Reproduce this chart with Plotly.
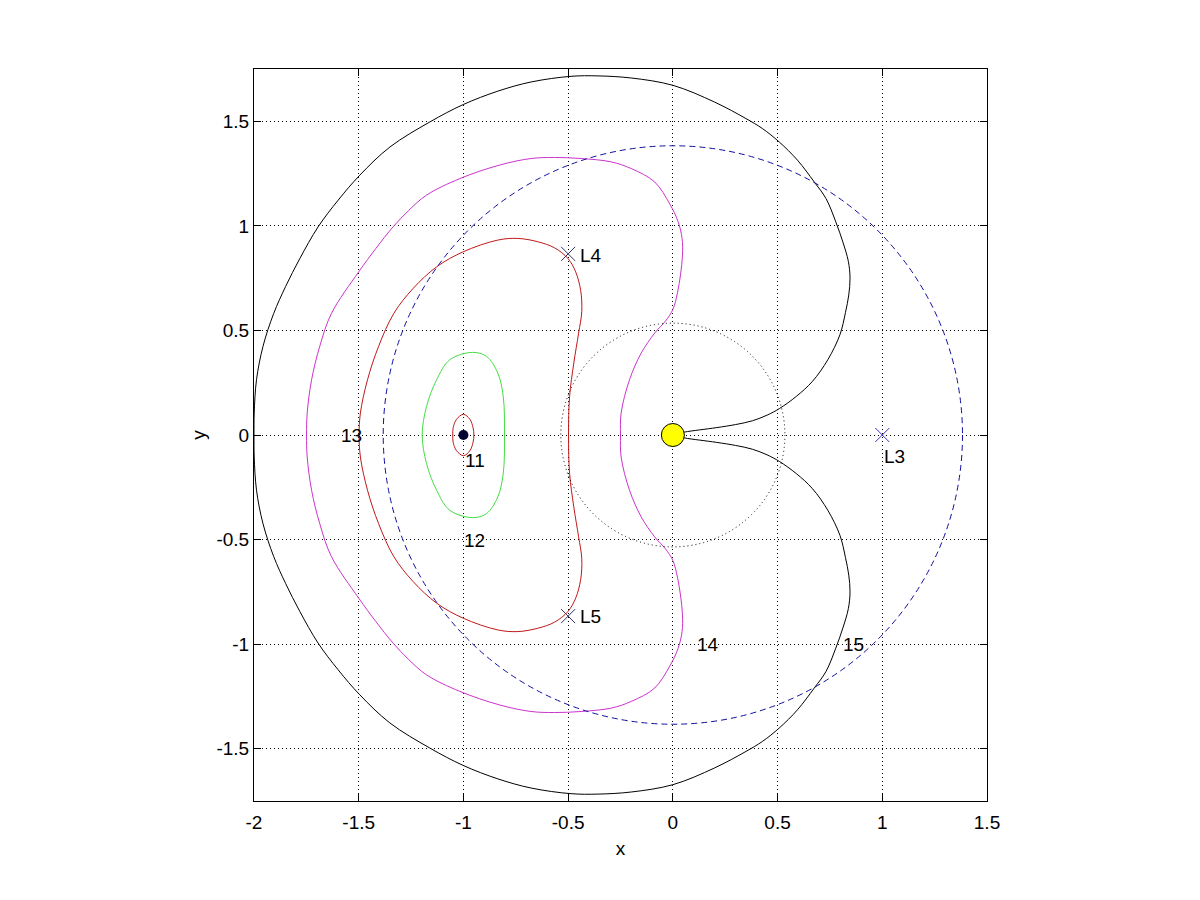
import plotly.graph_objects as go

# ---------------- data ----------------
# curve 15 (black): upper half from the cusp round to (-2, 0), then lower half back to the cusp
c15_x_upper = [0.02, 0.056, 0.207, 0.30, 0.38, 0.45, 0.508, 0.59, 0.667, 0.740, 0.798, 0.824, 0.840, 0.846,
               0.838, 0.812, 0.778, 0.731, 0.675, 0.595, 0.508, 0.428, 0.349, 0.199, 0.0, -0.199, -0.358,
               -0.486, -0.677, -0.836, -1.001, -1.160, -1.351, -1.495, -1.598, -1.694, -1.781, -1.849,
               -1.906, -1.957, -1.988, -1.999, -2.0]
c15_y_upper = [0.005, 0.014, 0.035, 0.050, 0.068, 0.095, 0.126, 0.185, 0.257, 0.360, 0.480, 0.585, 0.670, 0.750,
               0.830, 0.922, 1.019, 1.131, 1.210, 1.314, 1.401, 1.465, 1.513, 1.592, 1.672, 1.707, 1.717,
               1.715, 1.688, 1.644, 1.580, 1.497, 1.377, 1.242, 1.123, 0.995, 0.844, 0.710,
               0.581, 0.424, 0.264, 0.105, 0.0]
c15_x_lower = [-1.999, -1.988, -1.957, -1.906, -1.849, -1.781, -1.694, -1.598, -1.495, -1.351, -1.160, -1.001,
               -0.836, -0.677, -0.486, -0.358, -0.199, 0.0, 0.199, 0.349, 0.428, 0.508, 0.595, 0.675, 0.731,
               0.778, 0.812, 0.838, 0.846, 0.840, 0.824, 0.798, 0.740, 0.667, 0.59, 0.508, 0.45, 0.38, 0.30,
               0.207, 0.056, 0.02]
c15_y_lower = [-0.105, -0.264, -0.424, -0.581, -0.710, -0.844, -0.995, -1.123, -1.242, -1.377, -1.497, -1.580,
               -1.644, -1.688, -1.715, -1.717, -1.707, -1.672, -1.592, -1.513, -1.465, -1.401, -1.314, -1.210,
               -1.131, -1.019, -0.922, -0.830, -0.750, -0.670, -0.585, -0.480, -0.360, -0.257, -0.185, -0.126,
               -0.095, -0.068, -0.050, -0.035, -0.014, -0.005]

# curve 14 (magenta): upper half from (-0.25, 0) to (-1.749, 0), lower half back
c14_x_upper = [-0.250, -0.247, -0.207, -0.151, -0.087, -0.035, 0.0, 0.022, 0.037, 0.046, 0.044, 0.025, -0.015,
               -0.087, -0.199, -0.295, -0.438, -0.565, -0.677, -0.826, -1.017, -1.176, -1.260, -1.336, -1.418,
               -1.500, -1.630, -1.686, -1.725, -1.746, -1.749]
c14_y_upper = [0.0, 0.105, 0.264, 0.392, 0.487, 0.545, 0.600, 0.680, 0.770, 0.860, 0.940, 1.020, 1.105,
               1.210, 1.274, 1.306, 1.322, 1.327, 1.322, 1.291, 1.226, 1.147, 1.075, 0.995, 0.892,
               0.780, 0.582, 0.424, 0.264, 0.105, 0.0]
c14_x_lower = [-1.746, -1.725, -1.686, -1.630, -1.500, -1.418, -1.336, -1.260, -1.176, -1.017, -0.826, -0.677,
               -0.565, -0.438, -0.295, -0.199, -0.087, -0.015, 0.025, 0.044, 0.046, 0.037, 0.022, 0.0, -0.035,
               -0.087, -0.151, -0.207, -0.247, -0.250]
c14_y_lower = [-0.105, -0.264, -0.424, -0.582, -0.780, -0.892, -0.995, -1.075, -1.147, -1.226, -1.291, -1.322,
               -1.327, -1.322, -1.306, -1.274, -1.210, -1.105, -1.020, -0.940, -0.860, -0.770, -0.680, -0.600,
               -0.545, -0.487, -0.392, -0.264, -0.105, 0.0]

# curve 13 (red), closed
c13_x = [-0.498, -0.493, -0.473, -0.450, -0.435, -0.440, -0.464, -0.501, -0.565, -0.645, -0.740, -0.836,
         -1.001, -1.128, -1.240, -1.332, -1.405, -1.458, -1.492, -1.498,
         -1.492, -1.458, -1.405, -1.332, -1.240, -1.128, -1.001, -0.836, -0.740, -0.645, -0.565, -0.501,
         -0.464, -0.440, -0.435, -0.450, -0.473, -0.493, -0.498]
c13_y = [0.0, 0.185, 0.344, 0.487, 0.590, 0.690, 0.780, 0.844, 0.895, 0.924, 0.940, 0.932,
         0.876, 0.804, 0.701, 0.582, 0.424, 0.264, 0.105, 0.0,
         -0.105, -0.264, -0.424, -0.582, -0.701, -0.804, -0.876, -0.932, -0.940, -0.924, -0.895, -0.844,
         -0.780, -0.690, -0.590, -0.487, -0.344, -0.185, 0.0]

# curve 12 (green), closed
c12_x = [-0.804, -0.810, -0.836, -0.890, -0.957, -1.065, -1.128, -1.176, -1.197,
         -1.176, -1.128, -1.065, -0.957, -0.890, -0.836, -0.810, -0.804]
c12_y = [0.0, 0.185, 0.296, 0.376, 0.395, 0.360, 0.264, 0.137, 0.0,
         -0.137, -0.264, -0.360, -0.395, -0.376, -0.296, -0.185, 0.0]

# curve 11 (small red loop), closed
c11_x = [-0.950, -0.954, -0.969, -1.000, -1.033, -1.049, -1.051, -1.049, -1.033, -1.000, -0.969, -0.954, -0.950]
c11_y = [0.0, 0.035, 0.075, 0.099, 0.075, 0.035, 0.0, -0.035, -0.075, -0.099, -0.075, -0.035, 0.0]

# circles (centre and radius)
dashed_circle = {"cx": 0.0, "cy": 0.0, "r": 1.383}
dotted_circle = {"cx": 0.0, "cy": 0.0, "r": 0.535}

# bodies
big_body = (0.0, 0.0)
small_body = (-1.0, 0.0)

# Lagrange points
lag_names = ["L4", "L5", "L3"]
lag_x = [-0.5, -0.5, 1.0]
lag_y = [0.866, -0.866, 0.0]

# curve labels
label_text = ["11", "12", "13", "14", "15", "L4", "L5", "L3"]
label_x = [-1.0, -1.008, -1.594, 0.106, 0.802, -0.451, -0.451, 0.999]
label_y = [-0.12, -0.505, 0.0, -1.003, -1.003, 0.86, -0.866, -0.102]

x_ticks = [-2, -1.5, -1, -0.5, 0, 0.5, 1, 1.5]
y_ticks = [-1.5, -1, -0.5, 0, 0.5, 1, 1.5]

# ---------------- figure ----------------
fig = go.Figure()

def curve(x, y, color):
    fig.add_trace(go.Scatter(x=x, y=y, mode="lines",
                             line=dict(color=color, width=1, shape="spline", smoothing=1.0),
                             hoverinfo="skip", showlegend=False))

curve(c15_x_upper + c15_x_lower, c15_y_upper + c15_y_lower, "#000000")
curve(c14_x_upper + c14_x_lower, c14_y_upper + c14_y_lower, "#CC33CC")
curve(c13_x, c13_y, "#C01818")
curve(c12_x, c12_y, "#44DD44")
curve(c11_x, c11_y, "#C01818")

for c, dash, col in [(dashed_circle, "6px,4px", "#1010A0"), (dotted_circle, "1px,3px", "#000000")]:
    fig.add_shape(type="circle", xref="x", yref="y",
                  x0=c["cx"] - c["r"], x1=c["cx"] + c["r"], y0=c["cy"] - c["r"], y1=c["cy"] + c["r"],
                  line=dict(color=col, width=1, dash=dash), layer="above")

# Lagrange markers
fig.add_trace(go.Scatter(x=lag_x[:2], y=lag_y[:2], mode="markers",
                         marker=dict(symbol="x-thin", size=14, line=dict(color="#333366", width=1)),
                         showlegend=False, hoverinfo="skip"))
fig.add_trace(go.Scatter(x=lag_x[2:], y=lag_y[2:], mode="markers",
                         marker=dict(symbol="x-thin", size=14, line=dict(color="#3333CC", width=1)),
                         showlegend=False, hoverinfo="skip"))

# bodies
fig.add_trace(go.Scatter(x=[big_body[0]], y=[big_body[1]], mode="markers",
                         marker=dict(size=23, color="#FFFF00", line=dict(color="#000000", width=1)),
                         showlegend=False, hoverinfo="skip"))
fig.add_trace(go.Scatter(x=[small_body[0]], y=[small_body[1]], mode="markers",
                         marker=dict(size=10, color="#000033", line=dict(color="#000033", width=0)),
                         showlegend=False, hoverinfo="skip"))

for t, x, y in zip(label_text, label_x, label_y):
    fig.add_annotation(x=x, y=y, xref="x", yref="y", text=t, showarrow=False,
                       xanchor="left", yanchor="middle", font=dict(size=19, color="#000000"))

axis_common = dict(showline=True, linecolor="#000000", linewidth=1, mirror="allticks", ticks="inside",
                   ticklen=7, tickcolor="#000000", showgrid=True, gridcolor="#000000", gridwidth=1,
                   griddash="1px,3px", zeroline=False, tickfont=dict(size=19, color="#000000"),
                   automargin=False)

fig.update_layout(
    width=1200, height=900,
    margin=dict(l=246, r=221, t=61, b=107),
    paper_bgcolor="#FFFFFF", plot_bgcolor="#FFFFFF",
    font=dict(family="Liberation Sans, Arial, sans-serif", size=19, color="#000000"),
    xaxis=dict(range=[-2, 1.5], tickvals=x_ticks, ticktext=[f"{v:g}" for v in x_ticks],
               title=dict(text="x", font=dict(size=19), standoff=9), ticklabelstandoff=4, **axis_common),
    yaxis=dict(range=[-1.75, 1.75], tickvals=y_ticks, ticktext=[f"{v:g}" for v in y_ticks],
               title=dict(text="y", font=dict(size=19), standoff=5), ticklabelstandoff=0, **axis_common),
    showlegend=False,
)

fig.write_html("out.html")
